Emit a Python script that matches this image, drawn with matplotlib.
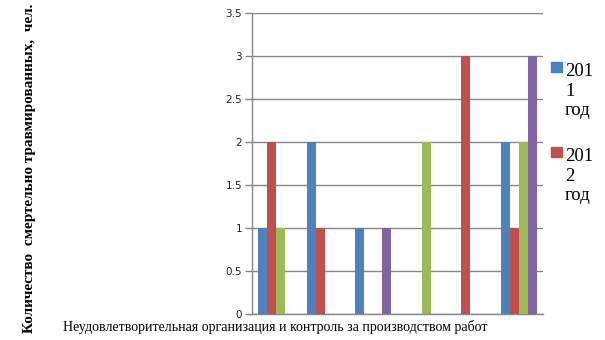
"""
Fatal injuries by cause group, grouped bar chart.
"""

import textwrap

import matplotlib.pyplot as plt
import numpy as np
from matplotlib.patches import Rectangle

# ---------------------------------------------------------------------------
# Data
# ---------------------------------------------------------------------------

groups = ["", "", "", "", "", ""]
series_names = ["2011 год", "2012 год", "", ""]
series_1 = [1, 2, 1, 0, 0, 2]
series_2 = [2, 1, 0, 0, 3, 1]
series_3 = [1, 0, 0, 2, 0, 2]
series_4 = [0, 0, 1, 0, 0, 3]
y_ticks = [0, 0.5, 1, 1.5, 2, 2.5, 3, 3.5]

colors = ["#4F81BD", "#C0504D", "#9BBB59", "#8064A2"]
grid_color = "#868686"

# ---------------------------------------------------------------------------
# Figure
# ---------------------------------------------------------------------------

W, H = 605, 340
fig = plt.figure(figsize=(W / 100, H / 100), dpi=100)
ax = fig.add_axes([252 / W, 1 - 314 / H, 291 / W, 301 / H])

x = np.arange(len(groups))
bar_w = 0.1875
all_series = [series_1, series_2, series_3, series_4]
for i, (vals, color) in enumerate(zip(all_series, colors)):
    ax.bar(x + (i - 1.5) * bar_w, vals, width=bar_w, color=color, zorder=3)

ax.set_xlim(-0.5, len(groups) - 0.5)
ax.set_ylim(0, 3.5)
ax.set_yticks(y_ticks)
ax.set_yticklabels([f"{t:g}" for t in y_ticks], fontsize=7.5, color="#222222")
ax.set_xticks([])
ax.yaxis.grid(True, color=grid_color, linewidth=1, zorder=0)
ax.tick_params(axis="y", length=5, width=1, color=grid_color, pad=2)

for side in ["top", "right"]:
    ax.spines[side].set_visible(False)
for side in ["left", "bottom"]:
    ax.spines[side].set_color(grid_color)
    ax.spines[side].set_linewidth(1)

# Axis titles
fig.text(30 / W, 1 - 168 / H, "Количество  смертельно травмированных,  чел.",
         rotation=90, ha="center", va="center", fontsize=11,
         fontweight="bold", family="Liberation Serif")
fig.text(63 / W, 1 - 327.5 / H,
         "Неудовлетворительная организация и контроль за производством работ",
         ha="left", va="center", fontsize=10, family="Liberation Serif")

# Legend: only the two named series, labels wrapped into a narrow column
for i, name in enumerate(series_names[:2]):
    top = 62 + i * 85
    fig.add_artist(Rectangle((551 / W, 1 - (top + 10) / H), 11 / W, 10 / H,
                             transform=fig.transFigure, color=colors[i]))
    fig.text(565 / W, 1 - (top + 1) / H, "\n".join(textwrap.wrap(name, 3)),
             ha="left", va="top", fontsize=13.5, linespacing=1.2,
             family="Liberation Serif")

fig.savefig("out.png", dpi=100)
